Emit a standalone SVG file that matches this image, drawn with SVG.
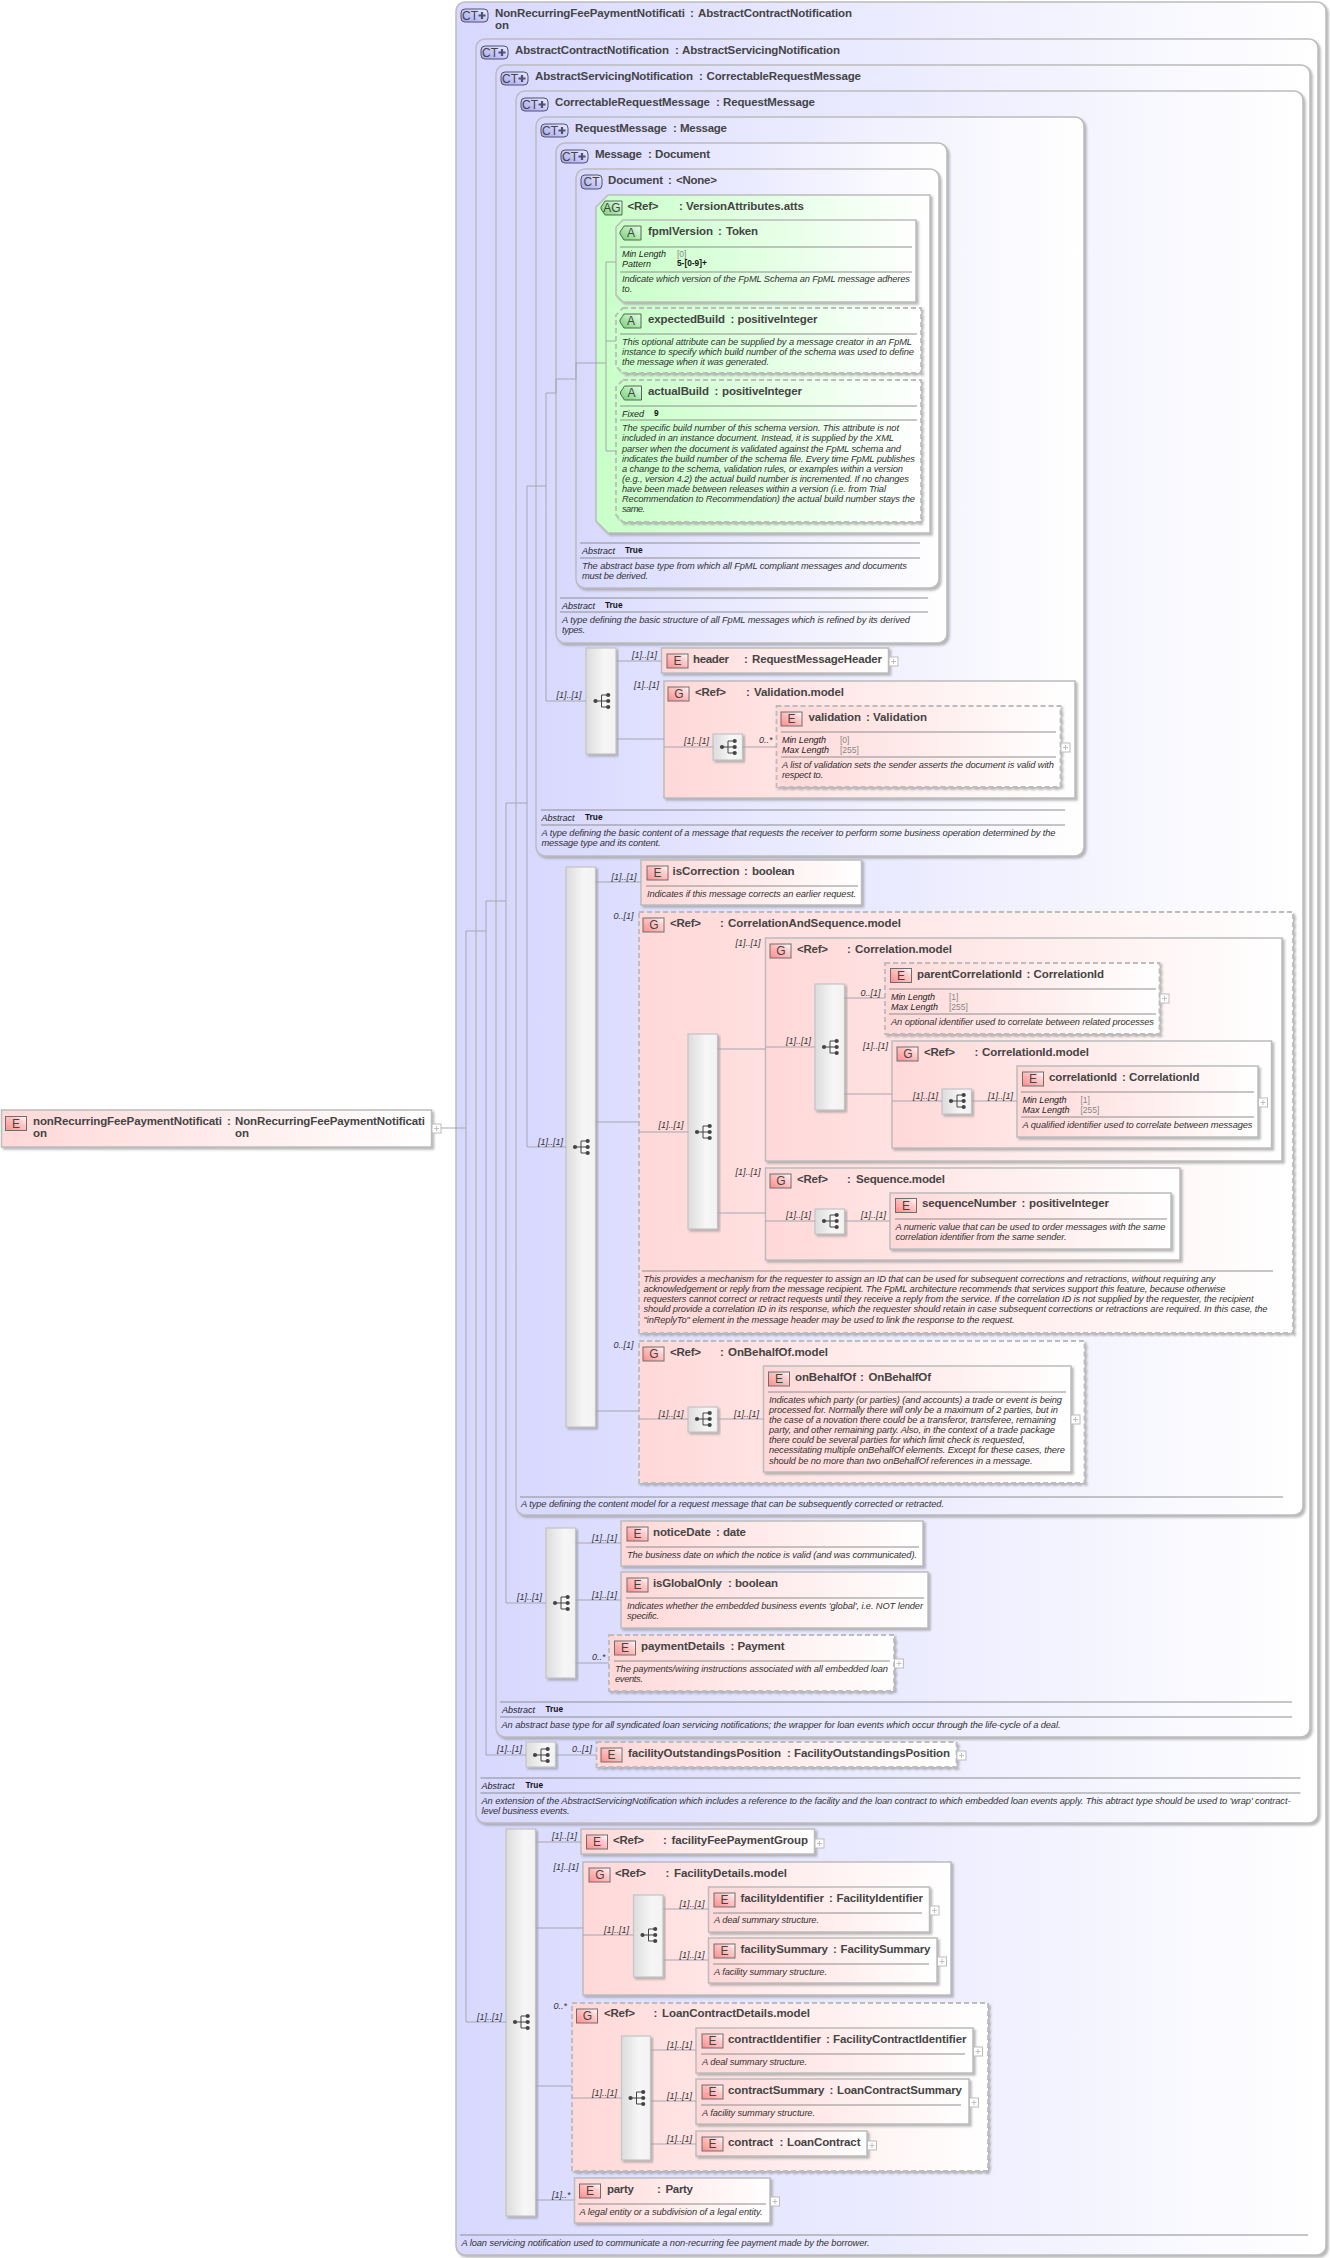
<svg xmlns="http://www.w3.org/2000/svg" width="1330" height="2258" viewBox="0 0 1330 2258">
<style>
text{font-family:"Liberation Sans",Arial,sans-serif;fill:#333}
.t{font-size:11.5px;font-weight:bold;fill:#444}
.d{font-size:9.3px;font-style:italic}
.f{font-size:9px;font-style:italic;fill:#222}
.v{font-size:8.5px;fill:#888}
.b{font-size:8.3px;font-weight:bold;fill:#111}
.l{font-size:9px;font-style:italic;fill:#333}
.ic{font-size:12px;fill:#444;text-anchor:middle}
.box{stroke:#bcbcbc;stroke-width:1.5;filter:url(#sh)}
.dash{stroke-dasharray:5 3;stroke-width:1.8}
.ct{fill:url(#gc)}.e{fill:url(#ge)}.a{fill:url(#ga)}
.seq{fill:url(#gs);stroke:#c4c4c4;stroke-width:1.2;filter:url(#sh)}
.sep{stroke:#8e8e8e;stroke-width:1;fill:none}
.cn{stroke:#a6a6ae;stroke-width:1;fill:none}
</style>
<defs>
<linearGradient id="gc"><stop offset="0" stop-color="#d8d8ff"/><stop offset="1" stop-color="#fff"/></linearGradient>
<linearGradient id="ge"><stop offset="0" stop-color="#ffd8d8"/><stop offset="1" stop-color="#fff"/></linearGradient>
<linearGradient id="ga"><stop offset="0" stop-color="#c8ffc8"/><stop offset="1" stop-color="#fff"/></linearGradient>
<linearGradient id="gs"><stop offset="0" stop-color="#dcdcdc"/><stop offset=".6" stop-color="#f6f6f6"/><stop offset="1" stop-color="#f2f2f2"/></linearGradient>
<linearGradient id="gie" x1="0" y1="1" x2="1" y2="0"><stop offset="0" stop-color="#ff8c8c"/><stop offset=".7" stop-color="#ffcfcf"/><stop offset="1" stop-color="#fff"/></linearGradient>
<linearGradient id="gic" x1="0" y1="1" x2="1" y2="0"><stop offset="0" stop-color="#a4a4f0"/><stop offset="1" stop-color="#ecECff"/></linearGradient>
<linearGradient id="gia" x1="0" y1="1" x2="1" y2="0"><stop offset="0" stop-color="#74d074"/><stop offset="1" stop-color="#e8ffe8"/></linearGradient>
<filter id="sh" x="-10%" y="-30%" width="120%" height="160%"><feDropShadow dx="2" dy="2" stdDeviation="0.9" flood-color="#8a8a8a" flood-opacity=".6"/></filter>
<g id="iE"><rect width="21" height="14" fill="url(#gie)" stroke="#6e6e6e"/></g>
<g id="iCT"><rect width="21" height="14" rx="4" fill="url(#gic)" stroke="#505070"/></g>
<g id="iCTp"><rect width="27" height="13" rx="4" fill="url(#gic)" stroke="#505070"/><path d="M17.5 6.5h7M21 3v7" stroke="#505070" stroke-width="2.2"/></g>
<g id="iA"><path d="M4 0H21V14H4L0 8V6Z" fill="url(#gia)" stroke="#566656"/></g>
<g id="pl"><rect width="9" height="9" fill="#fff" stroke="#bcbcbc"/><path d="M2 4.5h5M4.5 2v5" stroke="#c0c0c0"/></g>
<g id="gl" fill="#444"><circle r="2.1"/><circle cx="12.7" cy="-6" r="2.1"/><circle cx="12.7" r="2.1"/><circle cx="12.7" cy="6" r="2.1"/><path d="M0 0H12.7M6 -6V6M6 -6H12.7M6 6H12.7" stroke="#444" fill="none"/></g>
</defs>

<g id="root"><rect class="box e" x="1.5" y="1110" width="430" height="37"/><use href="#iE" x="5.5" y="1116.5"/><text class="ic" x="16" y="1128">E</text><text class="t" x="33" y="1125" textLength="189">nonRecurringFeePaymentNotificati</text><text class="t" x="33" y="1137">on</text><text class="t" x="227" y="1125">:</text><text class="t" x="235" y="1125" textLength="190">NonRecurringFeePaymentNotificati</text><text class="t" x="235" y="1137">on</text><use href="#pl" x="432" y="1124"/></g>

<g id="ct-nonrecurring"><rect class="box ct" x="456" y="2" width="870" height="2253" rx="9"/><use href="#iCTp" x="461" y="9"/><text class="ic" x="470" y="20">CT</text><text class="t" x="495" y="17" textLength="190">NonRecurringFeePaymentNotificati</text><text class="t" x="495" y="29">on</text><text class="t" x="690" y="17">:</text><text class="t" x="698" y="17" textLength="154">AbstractContractNotification</text><path class="sep" d="M460 2235H1308"/><text class="d" x="461.5" y="2246" textLength="408">A loan servicing notification used to communicate a non-recurring fee payment made by the borrower.</text></g>

<g id="ct-abstractcontract"><rect class="box ct" x="476" y="39" width="842" height="1784" rx="9"/><use href="#iCTp" x="481" y="46"/><text class="ic" x="490" y="57">CT</text><text class="t" x="515" y="54" textLength="154">AbstractContractNotification</text><text class="t" x="675" y="54">:</text><text class="t" x="682" y="54" textLength="158">AbstractServicingNotification</text><path class="sep" d="M480.5 1778H1300.5M480.5 1793H1300.5"/><text class="f" x="481.5" y="1789">Abstract</text><text class="b" x="525.5" y="1788">True</text><text class="d" x="481.5" y="1804" textLength="809">An extension of the AbstractServicingNotification which includes a reference to the facility and the loan contract to which embedded loan events apply. This abtract type should be used to 'wrap' contract-</text><text class="d" x="481.5" y="1814" textLength="88">level business events.</text></g>

<g id="ct-abstractservicing"><rect class="box ct" x="496" y="65" width="814" height="1672" rx="9"/><use href="#iCTp" x="501" y="72"/><text class="ic" x="510" y="83">CT</text><text class="t" x="535" y="80" textLength="158">AbstractServicingNotification</text><text class="t" x="699" y="80">:</text><text class="t" x="706.5" y="80" textLength="154.5">CorrectableRequestMessage</text><path class="sep" d="M500 1702H1292M500 1717H1292"/><text class="f" x="502" y="1713">Abstract</text><text class="b" x="545.5" y="1712">True</text><text class="d" x="501.5" y="1728" textLength="559">An abstract base type for all syndicated loan servicing notifications; the wrapper for loan events which occur through the life-cycle of a deal.</text></g>

<g id="ct-correctable"><rect class="box ct" x="516" y="91" width="787" height="1424" rx="9"/><use href="#iCTp" x="521" y="98"/><text class="ic" x="530" y="109">CT</text><text class="t" x="555" y="106" textLength="155">CorrectableRequestMessage</text><text class="t" x="716" y="106">:</text><text class="t" x="723" y="106" textLength="92">RequestMessage</text><path class="sep" d="M520 1497H1283"/><text class="d" x="521" y="1507" textLength="423">A type defining the content model for a request message that can be subsequently corrected or retracted.</text></g>

<g id="ct-requestmessage"><rect class="box ct" x="536" y="117" width="548" height="739" rx="9"/><use href="#iCTp" x="541" y="124"/><text class="ic" x="550" y="135">CT</text><text class="t" x="575" y="132" textLength="92">RequestMessage</text><text class="t" x="673" y="132">:</text><text class="t" x="680" y="132" textLength="47">Message</text><path class="sep" d="M541 810H1065M541 825H1065"/><text class="f" x="541.5" y="821">Abstract</text><text class="b" x="585" y="820">True</text><text class="d" x="541.5" y="836" textLength="514">A type defining the basic content of a message that requests the receiver to perform some business operation determined by the</text><text class="d" x="541.5" y="846" textLength="119">message type and its content.</text></g>

<g id="ct-message"><rect class="box ct" x="556" y="143" width="391" height="500" rx="9"/><use href="#iCTp" x="561" y="150"/><text class="ic" x="570" y="161">CT</text><text class="t" x="595" y="158" textLength="47">Message</text><text class="t" x="648" y="158">:</text><text class="t" x="655" y="158" textLength="55">Document</text><path class="sep" d="M560 598H928M560 612H928"/><text class="f" x="562" y="609">Abstract</text><text class="b" x="605" y="608">True</text><text class="d" x="562" y="623" textLength="348">A type defining the basic structure of all FpML messages which is refined by its derived</text><text class="d" x="562" y="633" textLength="23">types.</text></g>

<g id="ct-document"><rect class="box ct" x="576" y="169" width="363" height="419" rx="9"/><use href="#iCT" x="581" y="175"/><text class="ic" x="591.5" y="186">CT</text><text class="t" x="608" y="184" textLength="55">Document</text><text class="t" x="668" y="184">:</text><text class="t" x="676" y="184" textLength="41">&lt;None&gt;</text><path class="sep" d="M580 543H920M580 558H920"/><text class="f" x="582" y="554">Abstract</text><text class="b" x="625" y="553">True</text><text class="d" x="582" y="569" textLength="325">The abstract base type from which all FpML compliant messages and documents</text><text class="d" x="582" y="579" textLength="66">must be derived.</text></g>

<g id="ag-version"><path class="box a" d="M608 195H930V533H608L596 521V207Z"/><use href="#iA" x="601" y="201"/><text class="ic" x="612" y="212">AG</text><text class="t" x="627.5" y="209.5" textLength="31">&lt;Ref&gt;</text><text class="t" x="679" y="209.5">:</text><text class="t" x="686" y="209.5" textLength="118">VersionAttributes.atts</text></g>

<g id="a-fpmlversion"><path class="box a" d="M623 220H916V302H623L616 295V227Z"/><use href="#iA" x="620" y="226"/><text class="ic" x="631" y="237">A</text><text class="t" x="648" y="235" textLength="65">fpmlVersion</text><text class="t" x="718" y="235">:</text><text class="t" x="726" y="235" textLength="32">Token</text><path class="sep" d="M620 247H912M620 272H912"/><text class="f" x="622" y="257" textLength="44">Min Length</text><text class="v" x="677" y="257">[0]</text><text class="f" x="622" y="267">Pattern</text><text class="b" x="677" y="266">5-[0-9]+</text><text class="d" x="622" y="282" textLength="288">Indicate which version of the FpML Schema an FpML message adheres</text><text class="d" x="622" y="292">to.</text></g>

<g id="a-expectedbuild"><path class="box a dash" d="M623 308H921V373H623L616 366V315Z"/><use href="#iA" x="620" y="314"/><text class="ic" x="631" y="325">A</text><text class="t" x="648" y="323" textLength="77">expectedBuild</text><text class="t" x="730.5" y="323">:</text><text class="t" x="737.5" y="323" textLength="80">positiveInteger</text><path class="sep" d="M620 334H917"/><text class="d" x="622" y="345" textLength="290">This optional attribute can be supplied by a message creator in an FpML</text><text class="d" x="622" y="355" textLength="292">instance to specify which build number of the schema was used to define</text><text class="d" x="622" y="365" textLength="147">the message when it was generated.</text></g>

<g id="a-actualbuild"><path class="box a dash" d="M623 380H921V522H623L616 515V387Z"/><use href="#iA" x="620.5" y="386"/><text class="ic" x="631.5" y="397">A</text><text class="t" x="648" y="395" textLength="61">actualBuild</text><text class="t" x="714.5" y="395">:</text><text class="t" x="722" y="395" textLength="80">positiveInteger</text><path class="sep" d="M620 406H917M620 420H917"/><text class="f" x="622" y="417">Fixed</text><text class="b" x="654" y="416">9</text><text class="d" x="622" y="431" textLength="277">The specific build number of this schema version. This attribute is not</text><text class="d" x="622" y="441" textLength="272">included in an instance document. Instead, it is supplied by the XML</text><text class="d" x="622" y="451.5" textLength="279">parser when the document is validated against the FpML schema and</text><text class="d" x="622" y="461.5" textLength="293">indicates the build number of the schema file. Every time FpML publishes</text><text class="d" x="622" y="471.5" textLength="281">a change to the schema, validation rules, or examples within a version</text><text class="d" x="622" y="481.5" textLength="287">(e.g., version 4.2) the actual build number is incremented. If no changes</text><text class="d" x="622" y="492" textLength="264">have been made between releases within a version (i.e. from Trial</text><text class="d" x="622" y="502" textLength="293">Recommendation to Recommendation) the actual build number stays the</text><text class="d" x="622" y="512" textLength="23">same.</text></g>

<g id="seq-request"><rect class="seq" x="586" y="648" width="30" height="106"/><use href="#gl" x="595.5" y="701"/></g>

<g id="e-header"><rect class="box e" x="661.5" y="648" width="227" height="25"/><use href="#iE" x="667" y="654"/><text class="ic" x="677.5" y="665">E</text><text class="t" x="693" y="663" textLength="36">header</text><text class="t" x="744" y="663">:</text><text class="t" x="752" y="663" textLength="130">RequestMessageHeader</text><use href="#pl" x="889" y="657"/></g>

<g id="g-validation"><rect class="box e" x="664" y="681" width="411" height="117"/><use href="#iE" x="668" y="687"/><text class="ic" x="679" y="698">G</text><text class="t" x="695" y="696" textLength="31">&lt;Ref&gt;</text><text class="t" x="746" y="696">:</text><text class="t" x="754" y="696" textLength="90">Validation.model</text></g>
<g id="seq-validation"><rect class="seq" x="713" y="734" width="29.5" height="26"/><use href="#gl" x="722" y="747"/></g>
<g id="e-validation"><rect class="box e dash" x="776.5" y="706" width="284" height="81"/><use href="#iE" x="781" y="712"/><text class="ic" x="791.5" y="723">E</text><text class="t" x="808.5" y="721" textLength="52.5">validation</text><text class="t" x="866" y="721">:</text><text class="t" x="873" y="721" textLength="54">Validation</text><path class="sep" d="M781 732H1056M781 757H1056"/><text class="f" x="782" y="743" textLength="44">Min Length</text><text class="v" x="840" y="743">[0]</text><text class="f" x="782" y="753" textLength="47">Max Length</text><text class="v" x="840" y="753">[255]</text><text class="d" x="782" y="768" textLength="272">A list of validation sets the sender asserts the document is valid with</text><text class="d" x="782" y="778" textLength="41">respect to.</text><use href="#pl" x="1061" y="743"/></g>

<g id="seq-correctable"><rect class="seq" x="566" y="867" width="29.5" height="560"/><use href="#gl" x="575" y="1147"/></g>

<g id="e-iscorrection"><rect class="box e" x="641" y="860" width="220.5" height="45"/><use href="#iE" x="647" y="866"/><text class="ic" x="657.5" y="877">E</text><text class="t" x="672.5" y="875" textLength="67">isCorrection</text><text class="t" x="744" y="875">:</text><text class="t" x="752" y="875" textLength="42.5">boolean</text><path class="sep" d="M646 886H858"/><text class="d" x="647" y="897" textLength="209">Indicates if this message corrects an earlier request.</text></g>

<g id="g-corrseq"><rect class="box e dash" x="639" y="912" width="654" height="421"/><use href="#iE" x="643" y="918"/><text class="ic" x="654" y="929">G</text><text class="t" x="670" y="927" textLength="31">&lt;Ref&gt;</text><text class="t" x="720" y="927">:</text><text class="t" x="728" y="927" textLength="173">CorrelationAndSequence.model</text><path class="sep" d="M642 1271H1273"/><text class="d" x="643.5" y="1282" textLength="572">This provides a mechanism for the requester to assign an ID that can be used for subsequent corrections and retractions, without requiring any</text><text class="d" x="643.5" y="1292" textLength="582">acknowledgement or reply from the message recipient. The FpML architecture recommends that services support this feature, because otherwise</text><text class="d" x="643.5" y="1302" textLength="610">requesters cannot correct or retract requests until they receive a reply from the service. If the correlation ID is not supplied by the requester, the recipient</text><text class="d" x="643.5" y="1312" textLength="624">should provide a correlation ID in its response, which the requester should retain in case subsequent corrections or retractions are required. In this case, the</text><text class="d" x="643.5" y="1322.5" textLength="371">"inReplyTo" element in the message header may be used to link the response to the request.</text></g>
<g id="seq-corrseq"><rect class="seq" x="688" y="1034" width="29.5" height="195"/><use href="#gl" x="697" y="1132"/></g>

<g id="g-correlation"><rect class="box e" x="765.5" y="938" width="516.5" height="223"/><use href="#iE" x="770" y="944"/><text class="ic" x="781" y="955">G</text><text class="t" x="797" y="953" textLength="31">&lt;Ref&gt;</text><text class="t" x="847" y="953">:</text><text class="t" x="855" y="953" textLength="97">Correlation.model</text></g>
<g id="seq-correlation"><rect class="seq" x="815" y="984" width="29.5" height="126"/><use href="#gl" x="824" y="1047"/></g>
<g id="e-parentcorrelationid"><rect class="box e dash" x="885" y="963" width="274.5" height="71"/><use href="#iE" x="890.5" y="968.5"/><text class="ic" x="901" y="979.5">E</text><text class="t" x="917" y="978" textLength="105">parentCorrelationId</text><text class="t" x="1026.5" y="978">:</text><text class="t" x="1033.5" y="978" textLength="70.5">CorrelationId</text><path class="sep" d="M889 989H1156M889 1014H1156"/><text class="f" x="891" y="1000" textLength="44">Min Length</text><text class="v" x="949" y="1000">[1]</text><text class="f" x="891" y="1010" textLength="47">Max Length</text><text class="v" x="949" y="1010">[255]</text><text class="d" x="891" y="1025" textLength="263">An optional identifier used to correlate between related processes</text><use href="#pl" x="1160" y="994"/></g>
<g id="g-correlationid"><rect class="box e" x="892" y="1041" width="379.5" height="107"/><use href="#iE" x="897" y="1047"/><text class="ic" x="908" y="1058">G</text><text class="t" x="924" y="1056" textLength="31">&lt;Ref&gt;</text><text class="t" x="974.5" y="1056">:</text><text class="t" x="982" y="1056" textLength="107">CorrelationId.model</text></g>
<g id="seq-correlationid"><rect class="seq" x="942" y="1089" width="29.5" height="25"/><use href="#gl" x="951" y="1101"/></g>
<g id="e-correlationid"><rect class="box e" x="1017" y="1066" width="241" height="71"/><use href="#iE" x="1022.5" y="1072"/><text class="ic" x="1033" y="1083">E</text><text class="t" x="1049" y="1081" textLength="68">correlationId</text><text class="t" x="1122" y="1081">:</text><text class="t" x="1129" y="1081" textLength="70.5">CorrelationId</text><path class="sep" d="M1021 1092H1254M1021 1117H1254"/><text class="f" x="1022.5" y="1103" textLength="44">Min Length</text><text class="v" x="1080.5" y="1103">[1]</text><text class="f" x="1022.5" y="1113" textLength="47">Max Length</text><text class="v" x="1080.5" y="1113">[255]</text><text class="d" x="1022.5" y="1128" textLength="230">A qualified identifier used to correlate between messages</text><use href="#pl" x="1258.5" y="1098"/></g>

<g id="g-sequence"><rect class="box e" x="765.5" y="1168" width="414.5" height="92"/><use href="#iE" x="770" y="1174"/><text class="ic" x="781" y="1185">G</text><text class="t" x="797" y="1183" textLength="31">&lt;Ref&gt;</text><text class="t" x="847" y="1183">:</text><text class="t" x="856" y="1183" textLength="89">Sequence.model</text></g>
<g id="seq-sequence"><rect class="seq" x="815" y="1209" width="29.5" height="25"/><use href="#gl" x="824" y="1221"/></g>
<g id="e-sequencenumber"><rect class="box e" x="890" y="1193" width="281" height="56"/><use href="#iE" x="895.5" y="1198.5"/><text class="ic" x="906" y="1209.5">E</text><text class="t" x="922" y="1207" textLength="94.5">sequenceNumber</text><text class="t" x="1021.5" y="1207">:</text><text class="t" x="1029" y="1207" textLength="80">positiveInteger</text><path class="sep" d="M895 1219H1167"/><text class="d" x="895.5" y="1230" textLength="270">A numeric value that can be used to order messages with the same</text><text class="d" x="895.5" y="1240" textLength="171">correlation identifier from the same sender.</text></g>

<g id="g-onbehalfof"><rect class="box e dash" x="639" y="1341" width="445.5" height="142"/><use href="#iE" x="643" y="1347"/><text class="ic" x="654" y="1358">G</text><text class="t" x="670" y="1356" textLength="31">&lt;Ref&gt;</text><text class="t" x="720" y="1356">:</text><text class="t" x="728" y="1356" textLength="100">OnBehalfOf.model</text></g>
<g id="seq-onbehalfof"><rect class="seq" x="688" y="1407" width="29.5" height="25"/><use href="#gl" x="697" y="1419"/></g>
<g id="e-onbehalfof"><rect class="box e" x="763.5" y="1366" width="307.5" height="106"/><use href="#iE" x="768.5" y="1372"/><text class="ic" x="779" y="1383">E</text><text class="t" x="795" y="1381" textLength="61">onBehalfOf</text><text class="t" x="860" y="1381">:</text><text class="t" x="868.5" y="1381" textLength="62.5">OnBehalfOf</text><path class="sep" d="M768 1392H1066"/><text class="d" x="769" y="1403" textLength="293">Indicates which party (or parties) (and accounts) a trade or event is being</text><text class="d" x="769" y="1413" textLength="289">processed for. Normally there will only be a maximum of 2 parties, but in</text><text class="d" x="769" y="1423" textLength="287">the case of a novation there could be a transferor, transferee, remaining</text><text class="d" x="769" y="1433" textLength="286">party, and other remaining party. Also, in the context of a trade package</text><text class="d" x="769" y="1443" textLength="256">there could be several parties for which limit check is requested,</text><text class="d" x="769" y="1453" textLength="296">necessitating multiple onBehalfOf elements. Except for these cases, there</text><text class="d" x="769" y="1463.5" textLength="263.5">should be no more than two onBehalfOf references in a message.</text><use href="#pl" x="1071" y="1415"/></g>

<g id="seq-servicing"><rect class="seq" x="546" y="1528" width="29.5" height="150"/><use href="#gl" x="555" y="1603"/></g>
<g id="e-noticedate"><rect class="box e" x="621" y="1521" width="302" height="45"/><use href="#iE" x="627" y="1527"/><text class="ic" x="637.5" y="1538">E</text><text class="t" x="653" y="1536" textLength="58">noticeDate</text><text class="t" x="716" y="1536">:</text><text class="t" x="723" y="1536" textLength="23">date</text><path class="sep" d="M626 1547H919"/><text class="d" x="627" y="1558" textLength="290">The business date on which the notice is valid (and was communicated).</text></g>
<g id="e-isglobalonly"><rect class="box e" x="621" y="1572" width="307" height="56"/><use href="#iE" x="627" y="1578"/><text class="ic" x="637.5" y="1589">E</text><text class="t" x="653" y="1587" textLength="69">isGlobalOnly</text><text class="t" x="728" y="1587">:</text><text class="t" x="735" y="1587" textLength="43">boolean</text><path class="sep" d="M626 1598H924"/><text class="d" x="627" y="1609" textLength="296">Indicates whether the embedded business events 'global', i.e. NOT lender</text><text class="d" x="627" y="1619" textLength="32">specific.</text></g>
<g id="e-paymentdetails"><rect class="box e dash" x="609" y="1635" width="285" height="56"/><use href="#iE" x="614.5" y="1641"/><text class="ic" x="625" y="1652">E</text><text class="t" x="641" y="1650" textLength="84">paymentDetails</text><text class="t" x="730.5" y="1650">:</text><text class="t" x="737.5" y="1650" textLength="47">Payment</text><path class="sep" d="M614 1661H890"/><text class="d" x="615" y="1672" textLength="273">The payments/wiring instructions associated with all embedded loan</text><text class="d" x="615" y="1682" textLength="28">events.</text><use href="#pl" x="894.5" y="1659"/></g>

<g id="seq-contract"><rect class="seq" x="526" y="1742" width="29.5" height="25"/><use href="#gl" x="535" y="1755"/></g>
<g id="e-facilityoutstandings"><rect class="box e dash" x="596.5" y="1742" width="360" height="25"/><use href="#iE" x="601" y="1748"/><text class="ic" x="611.5" y="1759">E</text><text class="t" x="628" y="1757" textLength="153">facilityOutstandingsPosition</text><text class="t" x="787" y="1757">:</text><text class="t" x="794" y="1757" textLength="156">FacilityOutstandingsPosition</text><use href="#pl" x="957" y="1751"/></g>

<g id="seq-main"><rect class="seq" x="506" y="1829" width="29.5" height="387"/><use href="#gl" x="515" y="2022"/></g>
<g id="e-feegroup"><rect class="box e" x="581" y="1829" width="233.5" height="25"/><use href="#iE" x="586.5" y="1835"/><text class="ic" x="597" y="1846">E</text><text class="t" x="613" y="1844" textLength="31">&lt;Ref&gt;</text><text class="t" x="663" y="1844">:</text><text class="t" x="671.5" y="1844" textLength="136.5">facilityFeePaymentGroup</text><use href="#pl" x="815" y="1839"/></g>
<g id="g-facilitydetails"><rect class="box e" x="583" y="1862" width="368" height="133"/><use href="#iE" x="589" y="1868"/><text class="ic" x="600" y="1879">G</text><text class="t" x="615" y="1877" textLength="31">&lt;Ref&gt;</text><text class="t" x="665.5" y="1877">:</text><text class="t" x="674" y="1877" textLength="113">FacilityDetails.model</text></g>
<g id="seq-facilitydetails"><rect class="seq" x="633.5" y="1895" width="29.5" height="82"/><use href="#gl" x="642.5" y="1935"/></g>
<g id="e-facilityidentifier"><rect class="box e" x="708.5" y="1887" width="221" height="45"/><use href="#iE" x="714" y="1893"/><text class="ic" x="724.5" y="1904">E</text><text class="t" x="740.5" y="1902" textLength="83.5">facilityIdentifier</text><text class="t" x="829" y="1902">:</text><text class="t" x="836.5" y="1902" textLength="86.5">FacilityIdentifier</text><path class="sep" d="M713 1913H922"/><text class="d" x="714" y="1923" textLength="105">A deal summary structure.</text><use href="#pl" x="930" y="1906"/></g>
<g id="e-facilitysummary"><rect class="box e" x="708.5" y="1938" width="228.5" height="45"/><use href="#iE" x="714" y="1944"/><text class="ic" x="724.5" y="1955">E</text><text class="t" x="740.5" y="1953" textLength="87.5">facilitySummary</text><text class="t" x="833" y="1953">:</text><text class="t" x="840.5" y="1953" textLength="90">FacilitySummary</text><path class="sep" d="M713 1964H929"/><text class="d" x="714" y="1975" textLength="113">A facility summary structure.</text><use href="#pl" x="937.5" y="1957"/></g>

<g id="g-loancontract"><rect class="box e dash" x="572" y="2003" width="416" height="168"/><use href="#iE" x="576.5" y="2009"/><text class="ic" x="587.5" y="2020">G</text><text class="t" x="604" y="2017" textLength="31">&lt;Ref&gt;</text><text class="t" x="653.5" y="2017">:</text><text class="t" x="662" y="2017" textLength="148">LoanContractDetails.model</text></g>
<g id="seq-loancontract"><rect class="seq" x="621.5" y="2036" width="29" height="124"/><use href="#gl" x="630.5" y="2098"/></g>
<g id="e-contractidentifier"><rect class="box e" x="696" y="2028" width="277" height="45"/><use href="#iE" x="702" y="2034"/><text class="ic" x="712.5" y="2045">E</text><text class="t" x="728" y="2043" textLength="93">contractIdentifier</text><text class="t" x="826" y="2043">:</text><text class="t" x="833" y="2043" textLength="133.5">FacilityContractIdentifier</text><path class="sep" d="M701 2054H965"/><text class="d" x="702" y="2065" textLength="105">A deal summary structure.</text><use href="#pl" x="973.5" y="2047"/></g>
<g id="e-contractsummary"><rect class="box e" x="696" y="2079" width="273" height="45"/><use href="#iE" x="702" y="2085"/><text class="ic" x="712.5" y="2096">E</text><text class="t" x="728" y="2094" textLength="96.5">contractSummary</text><text class="t" x="829.5" y="2094">:</text><text class="t" x="837" y="2094" textLength="125">LoanContractSummary</text><path class="sep" d="M701 2105H961"/><text class="d" x="702" y="2116" textLength="113">A facility summary structure.</text><use href="#pl" x="969.5" y="2098"/></g>
<g id="e-contract"><rect class="box e" x="696" y="2131" width="171" height="25"/><use href="#iE" x="702" y="2137"/><text class="ic" x="712.5" y="2148">E</text><text class="t" x="728" y="2146" textLength="45">contract</text><text class="t" x="779.5" y="2146">:</text><text class="t" x="787" y="2146" textLength="73.5">LoanContract</text><use href="#pl" x="867.5" y="2141"/></g>
<g id="e-party"><rect class="box e" x="574.5" y="2178" width="195.5" height="45"/><use href="#iE" x="579.5" y="2184"/><text class="ic" x="590" y="2195">E</text><text class="t" x="607" y="2193" textLength="27">party</text><text class="t" x="657" y="2193">:</text><text class="t" x="665.5" y="2193" textLength="27.5">Party</text><path class="sep" d="M578 2204H766"/><text class="d" x="579.5" y="2215" textLength="183">A legal entity or a subdivision of a legal entity.</text><use href="#pl" x="770.5" y="2197"/></g>

<g id="connectors">
<path class="cn" d="M441 1128H466M466 931V2022H506M466 931H486M486 901V1755H526M486 901H506M506 803V1603H546M506 803H527M527 486V1147H566M527 486H546M546 393V701H586M546 393H556V379H576V363H606M606 262V451M606 262H616M606 341H616M606 451H616"/>
<path class="cn" d="M616 661H661.5M616 739H664M664 747H713M742.5 747H776.5"/>
<path class="cn" d="M595.5 882H641M595.5 1122H639M595.5 1411H639M639 1132H688M717.5 1049H765.5M717.5 1213H765.5M765.5 1047H815M844.5 998H885M844.5 1094H892M892 1101H942M971.5 1101H1017M765.5 1221H815M844.5 1221H890M639 1419H688M717.5 1419H763.5"/>
<path class="cn" d="M575.5 1543H621M575.5 1600H621M575.5 1663H609M555.5 1755H596.5"/>
<path class="cn" d="M535.5 1842H581M535.5 1928H583M535.5 2086H572M535.5 2200H574.5M583 1935H633.5M663 1909H708.5M663 1960H708.5M572 2098H621.5M650.5 2050H696M650.5 2101H696M650.5 2144H696"/>
<text class="l" x="556.5" y="698">[1]..[1]</text>
<text class="l" x="632" y="658">[1]..[1]</text>
<text class="l" x="634" y="688">[1]..[1]</text>
<text class="l" x="684" y="744">[1]..[1]</text>
<text class="l" x="759" y="743">0..*</text>
<text class="l" x="538" y="1145">[1]..[1]</text>
<text class="l" x="611.5" y="880">[1]..[1]</text>
<text class="l" x="613.5" y="919">0..[1]</text>
<text class="l" x="658.5" y="1128">[1]..[1]</text>
<text class="l" x="735.5" y="946">[1]..[1]</text>
<text class="l" x="786" y="1044">[1]..[1]</text>
<text class="l" x="860.5" y="996">0..[1]</text>
<text class="l" x="863" y="1049">[1]..[1]</text>
<text class="l" x="913" y="1099">[1]..[1]</text>
<text class="l" x="988" y="1099">[1]..[1]</text>
<text class="l" x="735.5" y="1175">[1]..[1]</text>
<text class="l" x="786" y="1218">[1]..[1]</text>
<text class="l" x="861" y="1218">[1]..[1]</text>
<text class="l" x="613.5" y="1348">0..[1]</text>
<text class="l" x="658.5" y="1417">[1]..[1]</text>
<text class="l" x="734" y="1417">[1]..[1]</text>
<text class="l" x="517" y="1600">[1]..[1]</text>
<text class="l" x="592" y="1541">[1]..[1]</text>
<text class="l" x="592" y="1598">[1]..[1]</text>
<text class="l" x="592" y="1660">0..*</text>
<text class="l" x="497" y="1752">[1]..[1]</text>
<text class="l" x="572" y="1752">0..[1]</text>
<text class="l" x="477" y="2020">[1]..[1]</text>
<text class="l" x="552" y="1839">[1]..[1]</text>
<text class="l" x="553.5" y="1870">[1]..[1]</text>
<text class="l" x="604" y="1933">[1]..[1]</text>
<text class="l" x="679.5" y="1907">[1]..[1]</text>
<text class="l" x="679.5" y="1958">[1]..[1]</text>
<text class="l" x="553.5" y="2009">0..*</text>
<text class="l" x="592" y="2096">[1]..[1]</text>
<text class="l" x="667" y="2048">[1]..[1]</text>
<text class="l" x="667" y="2099">[1]..[1]</text>
<text class="l" x="667" y="2142">[1]..[1]</text>
<text class="l" x="552" y="2198">[1]..*</text>
</g>
</svg>
